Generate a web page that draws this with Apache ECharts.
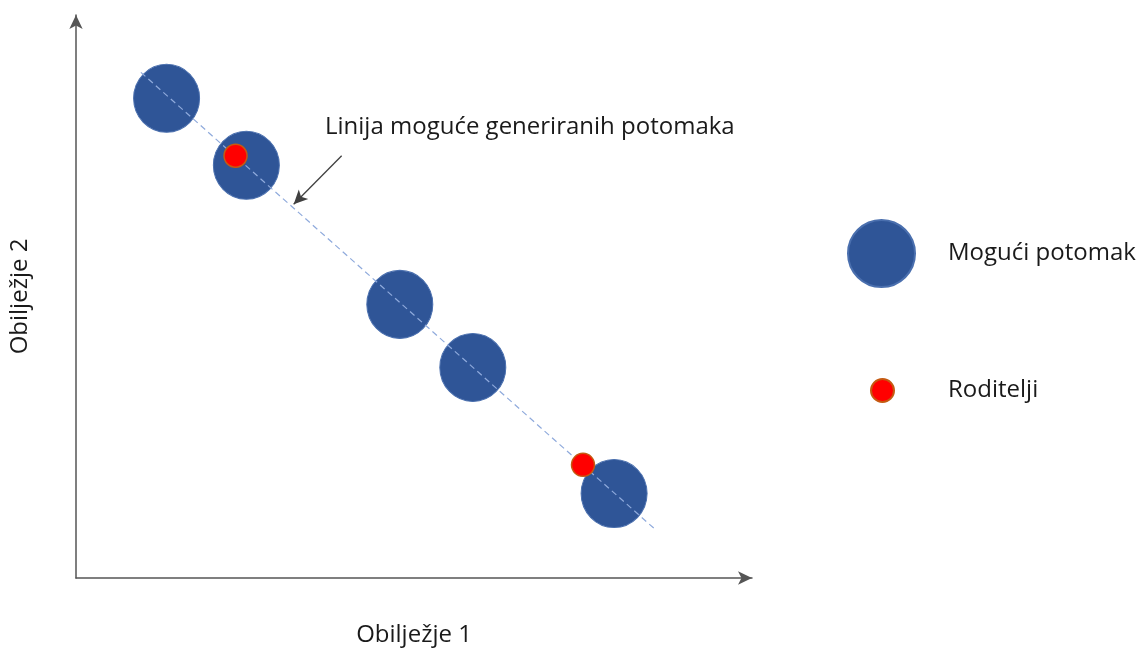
<!DOCTYPE html>
<html>
<head>
<meta charset="utf-8">
<script src="https://cdn.jsdelivr.net/npm/echarts@6/dist/echarts.min.js"></script>
<style>html,body{margin:0;padding:0;background:#fff;}#c{width:1141px;height:648px;}</style>
</head>
<body>
<div id="c"></div>
<script>
const offspringX = [1.34, 2.52, 4.79, 5.87, 7.96];
const offspringY = [8.52, 7.33, 4.86, 3.74, 1.50];
const parentX = [2.36, 7.50];
const parentY = [7.50, 2.01];
const lineX = [0.96, 8.59];
const lineY = [8.98, 0.84];
const arrowFrom = [3.93, 7.50];
const arrowTo = [3.22, 6.64];
const seriesNames = ['Mogući potomak', 'Roditelji'];
const axisNames = ['Obilježje 1', 'Obilježje 2'];
const annotationText = 'Linija moguće generiranih potomaka';

const FONT = '"Open Sans", "Noto Sans", sans-serif';
const zip = (a, b) => a.map((v, i) => [v, b[i]]);

const chart = echarts.init(document.getElementById('c'));
chart.setOption({
  backgroundColor: '#fff',
  animation: false,
  grid: { left: 76, right: 389, top: 15, bottom: 70, containLabel: false, outerBoundsMode: 'none' },
  xAxis: {
    type: 'value', min: 0, max: 10,
    name: axisNames[0], nameLocation: 'middle', nameGap: 45,
    nameTextStyle: { fontFamily: FONT, fontSize: 24, color: '#1a1a1a' },
    axisLine: { show: true, symbol: ['none', 'arrow'], symbolSize: [10, 14], lineStyle: { color: '#555', width: 1.5 } },
    axisTick: { show: false }, axisLabel: { show: false }, splitLine: { show: false }
  },
  yAxis: {
    type: 'value', min: 0, max: 10,
    name: axisNames[1], nameLocation: 'middle', nameGap: 44, nameRotate: 90,
    nameTextStyle: { fontFamily: FONT, fontSize: 24, color: '#1a1a1a' },
    axisLine: { show: true, symbol: ['none', 'arrow'], symbolSize: [10, 14], lineStyle: { color: '#555', width: 1.5 } },
    axisTick: { show: false }, axisLabel: { show: false }, splitLine: { show: false }
  },
  legend: [
    {
      data: [seriesNames[0]], orient: 'vertical', left: 842, top: 214,
      itemWidth: 67, itemHeight: 67, icon: 'circle', selectedMode: false,
      textStyle: { fontFamily: FONT, fontSize: 24, color: '#1a1a1a', padding: [0, 0, 0, 28] }
    },
    {
      data: [seriesNames[1]], orient: 'vertical', left: 865, top: 373,
      itemWidth: 23, itemHeight: 23, icon: 'circle', selectedMode: false,
      textStyle: { fontFamily: FONT, fontSize: 24, color: '#1a1a1a', padding: [0, 0, 0, 49] }
    }
  ],
  series: [
    {
      name: seriesNames[0], type: 'scatter', z: 2,
      symbol: 'circle', symbolSize: [66, 68],
      itemStyle: { color: '#2F5597', borderColor: '#4a6fae', borderWidth: 1, opacity: 1 },
      data: zip(offspringX, offspringY)
    },
    {
      name: 'line', type: 'line', z: 3, symbol: 'none', silent: true,
      lineStyle: { color: '#8FAADC', width: 1.2, type: [6, 4] },
      data: zip(lineX, lineY),
      markLine: {
        silent: true, symbol: ['none', 'arrow'], symbolSize: [10, 14],
        lineStyle: { color: '#404040', width: 1.3, type: 'solid' },
        label: { show: false },
        data: [[{ coord: arrowFrom }, { coord: arrowTo }]]
      }
    },
    {
      name: seriesNames[1], type: 'scatter', z: 4,
      symbol: 'circle', symbolSize: 23,
      itemStyle: { color: '#FF0000', borderColor: '#C55A11', borderWidth: 1.5, opacity: 1 },
      data: zip(parentX, parentY)
    }
  ],
  graphic: [
    {
      type: 'text', left: 325, top: 115,
      style: { text: annotationText, fontFamily: FONT, fontSize: 24, fill: '#1a1a1a' }
    }
  ]
});
</script>
</body>
</html>
